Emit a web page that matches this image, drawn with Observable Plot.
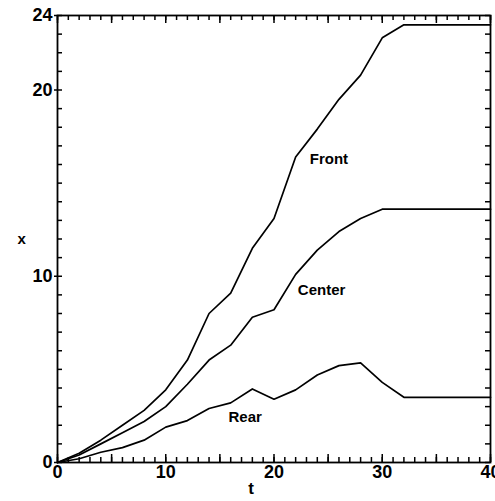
<!DOCTYPE html>
<html>
<head>
<meta charset="utf-8">
<script src="https://cdn.jsdelivr.net/npm/d3@7"></script>
<script src="https://cdn.jsdelivr.net/npm/@observablehq/plot@0.6"></script>
<style>
  html, body { margin: 0; padding: 0; background: #fff; }
</style>
</head>
<body>
<div id="chart"></div>
<script>
// time values (t)
const t      = [0, 2, 4, 6, 8, 10, 12, 14, 16, 18, 20, 22, 24, 26, 28, 30, 32, 36, 40];
// series (x)
const front  = [0, 0.5, 1.2, 2.0, 2.8, 3.9, 5.5, 8.0, 9.1, 11.5, 13.1, 16.4, 17.9, 19.5, 20.8, 22.8, 23.5, 23.5, 23.5];
const center = [0, 0.4, 1.0, 1.6, 2.2, 3.0, 4.2, 5.5, 6.3, 7.8, 8.2, 10.1, 11.4, 12.4, 13.1, 13.6, 13.6, 13.6, 13.6];
const rear   = [0, 0.2, 0.55, 0.8, 1.2, 1.9, 2.25, 2.9, 3.2, 3.95, 3.4, 3.9, 4.7, 5.2, 5.35, 4.3, 3.5, 3.5, 3.5];
// curve labels
const labelNames = ["Front", "Center", "Rear"];
const labelT     = [23.3, 22.2, 15.8];
const labelX     = [16.3, 9.25, 2.45];
// tick labels
const xTickLabels = [0, 10, 20, 30, 40];
const yTickLabels = [0, 10, 20, 24];
// tick mark positions
const xMinorTicks = d3.range(0, 41, 1);
const xMajorTicks = d3.range(0, 41, 5);
const yMinorTicks = d3.range(0, 25, 1);

const series = [
  {name: "Front", values: front},
  {name: "Center", values: center},
  {name: "Rear", values: rear}
];
const rows = series.flatMap(s => t.map((tt, i) => ({series: s.name, t: tt, x: s.values[i]})));
const labels = labelNames.map((n, i) => ({name: n, t: labelT[i], x: labelX[i]}));

const FONT = "'Liberation Sans Narrow', 'Liberation Sans', sans-serif";
const W = 495, H = 501, ML = 57, MR = 5, MT = 15, MB = 39;
const FW = W - ML - MR, FH = H - MT - MB;
const X0 = 0, X1 = 40, Y0 = 0, Y1 = 24;
// tick lengths converted from pixels to data units
const yPx = px => px * (Y1 - Y0) / FH;
const xPx = px => px * (X1 - X0) / FW;

const tickStyle = {stroke: "#000", strokeWidth: 1.5};

const chart = Plot.plot({
  width: W,
  height: H,
  marginLeft: ML,
  marginRight: MR,
  marginTop: MT,
  marginBottom: MB,
  style: {background: "#fff", fontFamily: FONT, color: "#000"},
  x: {domain: [X0, X1], axis: null},
  y: {domain: [Y0, Y1], axis: null},
  marks: [
    Plot.frame({stroke: "#000", strokeWidth: 1.8}),
    // inward ticks: bottom / top
    Plot.ruleX(xMinorTicks, {x: d => d, y1: Y0, y2: Y0 + yPx(5), ...tickStyle}),
    Plot.ruleX(xMinorTicks, {x: d => d, y1: Y1, y2: Y1 - yPx(5), ...tickStyle}),
    Plot.ruleX(xMajorTicks, {x: d => d, y1: Y0, y2: Y0 + yPx(8), ...tickStyle}),
    Plot.ruleX(xMajorTicks, {x: d => d, y1: Y1, y2: Y1 - yPx(8), ...tickStyle}),
    // inward ticks: left / right
    Plot.ruleY(yMinorTicks, {y: d => d, x1: X0, x2: X0 + xPx(5), ...tickStyle}),
    Plot.ruleY(yMinorTicks, {y: d => d, x1: X1, x2: X1 - xPx(5), ...tickStyle}),
    // labelled ticks
    Plot.axisX({anchor: "bottom", ticks: xTickLabels, tickSize: 0, tickPadding: 3, label: null,
      fontSize: 18, fontWeight: "bold", fill: "#000"}),
    Plot.axisY({anchor: "left", ticks: yTickLabels, tickSize: 3, tickPadding: 2, label: null,
      fontSize: 18, fontWeight: "bold", fill: "#000", strokeWidth: 1.5}),
    // curves
    Plot.line(rows, {x: "t", y: "x", z: "series", stroke: "#000", strokeWidth: 1.7, curve: "linear"}),
    // curve labels
    Plot.text(labels, {x: "t", y: "x", text: "name", textAnchor: "start", fontSize: 15,
      fontWeight: "bold", fill: "#000", ariaLabel: "curve-label"}),
    // axis titles
    Plot.text(["x"], {frameAnchor: "left", dx: -40, text: d => d, fontSize: 15, fontWeight: "bold", fill: "#000"}),
    Plot.text(["t"], {frameAnchor: "bottom", dx: -23, dy: 31, text: d => d, fontSize: 17, fontWeight: "bold", fill: "#000"})
  ]
});

d3.select(chart).selectAll('g[aria-label="curve-label"] text').style("letter-spacing", "2.5px");
document.getElementById("chart").appendChild(chart);
</script>
</body>
</html>
